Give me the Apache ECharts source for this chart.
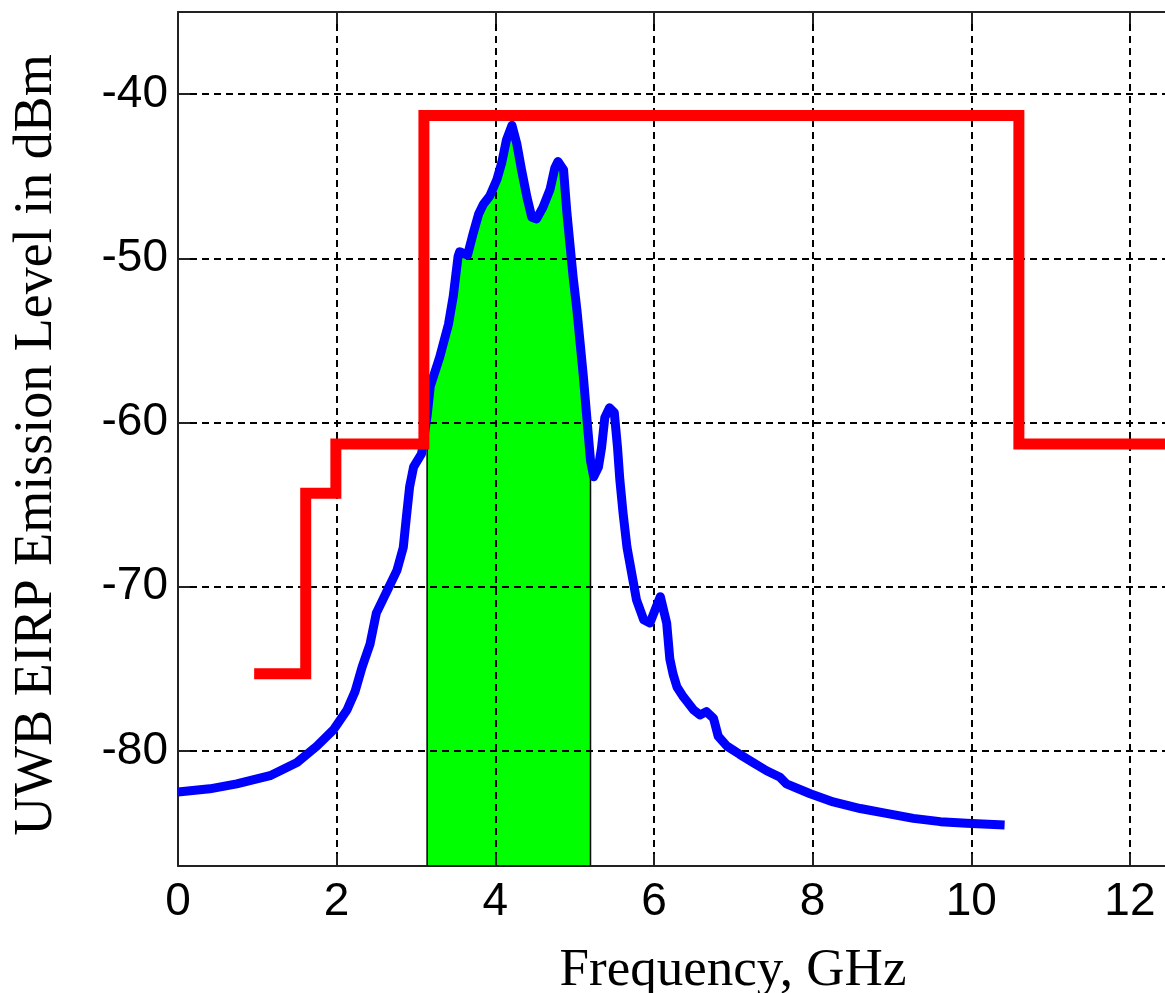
<!DOCTYPE html>
<html>
<head>
<meta charset="utf-8">
<title>UWB EIRP Emission Level</title>
<script src="https://cdn.jsdelivr.net/npm/echarts@6/dist/echarts.min.js"></script>
<style>
  html, body { margin: 0; padding: 0; background: #ffffff; }
  #chart { width: 1165px; height: 993px; }
</style>
</head>
<body>
<div id="chart"></div>
<script>
// Measured UWB emission spectrum (frequency in GHz, level in dBm)
const spectrumFreq = [
  0.00, 0.40, 0.74, 1.16, 1.50, 1.75, 1.96, 2.13, 2.23, 2.32,
  2.42, 2.50, 2.65, 2.76, 2.84, 2.88, 2.92, 2.97, 3.07, 3.14,
  3.18, 3.30, 3.41, 3.47, 3.53, 3.55, 3.65, 3.72, 3.79, 3.85,
  3.93, 4.02, 4.08, 4.14, 4.21, 4.27, 4.33, 4.40, 4.46, 4.52,
  4.60, 4.69, 4.75, 4.79, 4.86, 4.90, 4.94, 4.98, 5.03, 5.07,
  5.11, 5.15, 5.20, 5.24, 5.30, 5.34, 5.38, 5.44, 5.50, 5.54,
  5.57, 5.61, 5.66, 5.72, 5.78, 5.87, 5.95, 6.03, 6.08, 6.16,
  6.20, 6.24, 6.29, 6.37, 6.50, 6.58, 6.66, 6.75, 6.81, 6.92,
  7.08, 7.25, 7.42, 7.59, 7.67, 7.97, 8.26, 8.60, 8.93, 9.27,
  9.61, 9.94, 10.42
];
const spectrumLevel = [
  -82.5, -82.3, -82.0, -81.5, -80.7, -79.7, -78.7, -77.5, -76.4, -74.9,
  -73.5, -71.6, -70.1, -69.0, -67.6, -65.7, -63.9, -62.7, -61.9, -59.6,
  -57.8, -56.0, -54.0, -52.3, -49.9, -49.6, -49.8, -48.5, -47.3, -46.7,
  -46.2, -45.2, -44.2, -42.8, -41.9, -43.0, -44.6, -46.3, -47.5, -47.6,
  -46.9, -45.8, -44.5, -44.1, -44.6, -47.1, -49.1, -51.1, -53.2, -55.2,
  -57.2, -59.5, -62.3, -63.3, -62.7, -61.5, -59.7, -59.1, -59.4, -61.5,
  -63.5, -65.5, -67.6, -69.2, -70.8, -72.0, -72.2, -71.2, -70.6, -72.2,
  -74.4, -75.3, -76.1, -76.7, -77.5, -77.8, -77.6, -78.0, -79.1, -79.7,
  -80.2, -80.7, -81.2, -81.6, -82.0, -82.6, -83.1, -83.5, -83.8, -84.1,
  -84.3, -84.4, -84.5
];

// Emission mask bands: start / end frequency (GHz) and limit (dBm)
const maskStart = [0.96, 1.61, 1.99, 3.10, 10.60];
const maskEnd   = [1.61, 1.99, 3.10, 10.60, 12.60];
const maskLevel = [-75.3, -64.3, -61.3, -41.3, -61.3];

// Highlighted band of the spectrum (GHz)
const bandLow = 3.14;
const bandHigh = 5.20;

// Axis ticks
const freqTicks = [0, 2, 4, 6, 8, 10, 12];
const levelTicks = [-80, -70, -60, -50, -40];

const yMin = -87, yMax = -35;

const spectrum = spectrumFreq.map((f, i) => [f, spectrumLevel[i]]);

const mask = [];
maskStart.forEach((s, i) => {
  mask.push([s, maskLevel[i]]);
  mask.push([maskEnd[i], maskLevel[i]]);
});

const band = [[bandLow, yMin]];
spectrum.forEach(p => { if (p[0] >= bandLow && p[0] <= bandHigh) band.push(p); });
band.push([bandHigh, yMin]);

const gridDash = { color: '#000', width: 2, type: [7, 5] };
const frameLine = { color: '#222', width: 2 };
const tickFont = { fontFamily: 'Liberation Sans, Arial, sans-serif', fontSize: 46, color: '#000' };

const chart = echarts.init(document.getElementById('chart'), null, { renderer: 'canvas' });

chart.setOption({
  backgroundColor: '#ffffff',
  animation: false,
  grid: { left: 178, top: 12, width: 1110.6, height: 854, containLabel: false, outerBoundsMode: 'none' },
  xAxis: [
    {
      type: 'value', position: 'bottom', min: 0, max: 14, interval: 2, z: 3,
      axisLine: { show: true, onZero: false, lineStyle: frameLine },
      axisTick: { show: true, inside: true, length: 12, lineStyle: frameLine },
      axisLabel: Object.assign({ margin: 13,
        formatter: v => freqTicks.indexOf(v) >= 0 ? String(v) : '' }, tickFont),
      splitLine: { show: true, lineStyle: gridDash }
    },
    {
      type: 'value', position: 'top', min: 0, max: 14, interval: 2, z: 3,
      axisLine: { show: true, onZero: false, lineStyle: frameLine },
      axisTick: { show: true, inside: true, length: 12, lineStyle: frameLine },
      axisLabel: { show: false },
      splitLine: { show: false }
    }
  ],
  yAxis: [
    {
      type: 'value', min: yMin, max: yMax, splitNumber: 5, z: 3,
      axisLine: { show: true, onZero: false, lineStyle: frameLine },
      axisTick: { show: true, inside: true, length: 12, lineStyle: frameLine },
      axisLabel: Object.assign({ margin: 10, showMinLabel: false, showMaxLabel: false,
        formatter: v => levelTicks.indexOf(v) >= 0 ? String(v) : '' }, tickFont),
      splitLine: { show: true, lineStyle: gridDash }
    }
  ],
  series: [
    {
      name: 'band', type: 'line', data: band, z: 2,
      showSymbol: false, symbol: 'none',
      lineStyle: { color: '#000', width: 1.5 },
      areaStyle: { color: '#00ff00', opacity: 1, origin: 'start' }
    },
    {
      name: 'spectrum', type: 'line', data: spectrum, z: 4,
      showSymbol: false, symbol: 'none',
      lineStyle: { color: '#0000ff', width: 9, join: 'round' }
    },
    {
      name: 'mask', type: 'line', data: mask, z: 5,
      showSymbol: false, symbol: 'none',
      lineStyle: { color: '#ff0000', width: 11, join: 'miter', cap: 'butt' }
    }
  ],
  graphic: [
    {
      type: 'text', x: 733, y: 971, z: 10,
      style: { text: 'Frequency, GHz', font: '53px "Liberation Serif", "Times New Roman", serif',
               fill: '#000', align: 'center', verticalAlign: 'middle' }
    },
    {
      type: 'text', x: 37, y: 445, rotation: Math.PI / 2, z: 10,
      style: { text: 'UWB EIRP Emission Level in dBm', font: '54px "Liberation Serif", "Times New Roman", serif',
               fill: '#000', align: 'center', verticalAlign: 'middle' }
    }
  ]
});
</script>
</body>
</html>
